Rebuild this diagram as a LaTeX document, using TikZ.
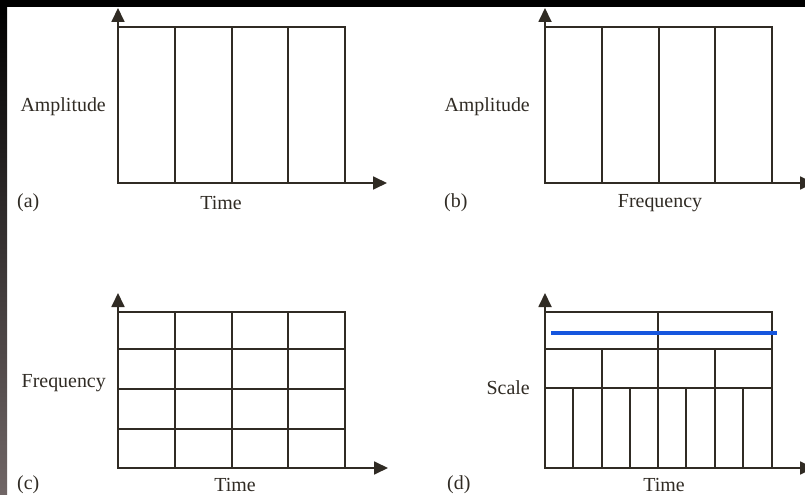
\documentclass[tikz,border=0pt]{standalone}
\usepackage{fontspec}
\setmainfont{Liberation Serif}
\usetikzlibrary{arrows.meta}
\definecolor{gridline}{RGB}{48,43,36}
\definecolor{scaleblue}{RGB}{22,86,222}

\begin{document}
\begin{tikzpicture}[x=1bp,y=-1bp,
  every node/.style={font=\fontsize{20}{24}\selectfont,text=gridline,inner sep=0pt},
  axis/.style={line width=1.8bp,draw=gridline,-{Triangle[length=14bp,width=13bp]}},
  cell/.style={line width=1.8bp,draw=gridline}]
\useasboundingbox (0,0) rectangle (805,495);
\fill[white] (0,0) rectangle (805,495);
\fill[black] (0,0) rectangle (805,7);
\shade[top color=black,bottom color={rgb,255:red,112;green,102;blue,102}] (0,7) rectangle (7,495);
% (a) amplitude over time
\begin{scope}[shift={(118,183)}]
\coordinate (oa) at (0,0);
\draw[cell] (0,0) rectangle (227,-156);
\foreach \x in {57,114,170} \draw[cell] (\x,0) -- (\x,-156);
\draw[axis] (oa) -- (269,0);
\draw[axis] (oa) -- (0,-175);
\end{scope}
\node[anchor=east] (ampa) at (106,107) {Amplitude};
\node[anchor=west] (taga) at (17,203) {(a)};
\node (timea) at (221,203) {Time};
% (b) amplitude over frequency
\begin{scope}[shift={(545,183)}]
\coordinate (ob) at (0,0);
\draw[cell] (0,0) rectangle (227,-156);
\foreach \x in {57,114,170} \draw[cell] (\x,0) -- (\x,-156);
\draw[axis] (ob) -- (269,0);
\draw[axis] (ob) -- (0,-175);
\end{scope}
\node[anchor=east] (ampb) at (530,107) {Amplitude};
\node[anchor=west] (tagb) at (444,203) {(b)};
\node (freqb) at (660,203) {Frequency};
% (c) time-frequency tiles
\begin{scope}[shift={(118,468)}]
\coordinate (oc) at (0,0);
\draw[cell] (0,0) rectangle (227,-156);
\foreach \x in {57,114,170} \draw[cell] (\x,0) -- (\x,-156);
\foreach \y in {39,79,119} \draw[cell] (0,-\y) -- (227,-\y);
\draw[axis] (oc) -- (270,0);
\draw[axis] (oc) -- (0,-175);
\end{scope}
\node[anchor=east] (freqc) at (106,383) {Frequency};
\node[anchor=west] (tagc) at (17,485) {(c)};
\node (timec) at (235,485) {Time};
% (d) time-scale tiles
\begin{scope}[shift={(545,468)}]
\coordinate (od) at (0,0);
\draw[cell] (0,0) rectangle (227,-156);
\draw[cell] (0,-119) -- (227,-119);
\draw[cell] (0,-80) -- (227,-80);
\draw[cell] (113,-156) -- (113,0);
\foreach \x in {57,170} \draw[cell] (\x,-119) -- (\x,0);
\foreach \x in {28,85,141,198} \draw[cell] (\x,-80) -- (\x,0);
\draw[line width=3.2bp,draw=scaleblue] (6,-135) -- (232,-135);
\draw[axis] (od) -- (269,0);
\draw[axis] (od) -- (0,-175);
\end{scope}
\node[anchor=east] (scaled) at (530,388) {Scale};
\node[anchor=west] (tagd) at (447,485) {(d)};
\node (timed) at (664,485) {Time};
\end{tikzpicture}
\end{document}
